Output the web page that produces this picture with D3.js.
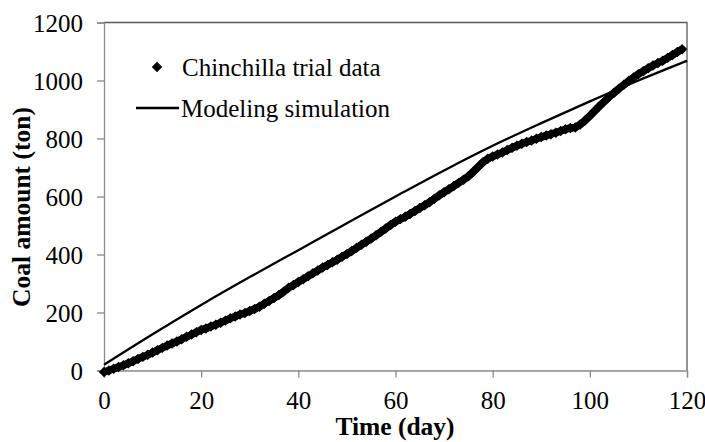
<!DOCTYPE html>
<html>
<head>
<meta charset="utf-8">
<script src="https://cdn.jsdelivr.net/npm/d3@7"></script>
<style>
  html, body { margin: 0; padding: 0; background: #fff; }
  svg { display: block; }
</style>
</head>
<body>
<svg id="chart" width="705" height="442"></svg>
<script>
// ---- data ----
const trialDays = d3.range(0, 120);
const trialValues = [
  -5, 0, 6, 12, 18, 25, 32, 40, 47, 54,
  62, 70, 78, 86, 93, 100, 108, 116, 124, 132,
  140, 145, 152, 158, 165, 172, 180, 186, 193, 198,
  205, 212, 220, 230, 240, 250, 260, 272, 285, 295,
  305, 315, 325, 335, 345, 355, 364, 373, 382, 392,
  402, 412, 423, 434, 444, 455, 466, 478, 490, 502,
  513, 522, 530, 540, 550, 560, 570, 580, 592, 604,
  615, 625, 636, 647, 658, 670, 685, 702, 718, 730,
  738, 745, 752, 760, 768, 775, 782, 788, 793, 799,
  805, 810, 815, 820, 826, 832, 836, 838, 848, 862,
  878, 895, 912, 928, 944, 958, 972, 985, 998, 1010,
  1022, 1032, 1042, 1052, 1060, 1068, 1078, 1088, 1098, 1108
];
const modelDays = [0, 10, 20, 30, 40, 50, 60, 70, 80, 90, 100, 110, 120];
const modelValues = [20, 125, 226, 322, 415, 508, 600, 690, 775, 853, 928, 1000, 1068];
const xTicks = [0, 20, 40, 60, 80, 100, 120];
const yTicks = [0, 200, 400, 600, 800, 1000, 1200];
const seriesNames = ["Chinchilla trial data", "Modeling simulation"];
const xTitle = "Time (day)";
const yTitle = "Coal amount (ton)";

const FONT = "'Liberation Serif', Tinos, 'Times New Roman', 'DejaVu Serif', serif";

// ---- layout ----
const svg = d3.select("#chart");
const mLeft = 104, mRight = 687, mTop = 22.5, mBottom = 370.5;
const x = d3.scaleLinear().domain([0, 120]).range([mLeft, mRight]);
const y = d3.scaleLinear().domain([0, 1200]).range([mBottom, mTop]);

// frame (top & right)
svg.append("path")
  .attr("d", `M${mLeft},${mTop}H${mRight}V${mBottom}`)
  .attr("fill", "none").attr("stroke", "#595959").attr("stroke-width", 1.3);

// axes
const xAxis = svg.append("g").attr("transform", `translate(0,${mBottom})`)
  .call(d3.axisBottom(x).tickValues(xTicks).tickSize(7).tickPadding(14).tickFormat(d3.format("d")));
const yAxis = svg.append("g").attr("transform", `translate(${mLeft},0)`)
  .call(d3.axisLeft(y).tickValues(yTicks).tickSize(7).tickPadding(14).tickFormat(d3.format("d")));
[xAxis, yAxis].forEach(g => {
  g.attr("font-family", FONT).attr("font-size", 25);
  g.select(".domain").attr("stroke", "#8a8a8a").attr("stroke-width", 1.3);
  g.selectAll(".tick line").attr("stroke", "#8a8a8a").attr("stroke-width", 1.3);
  g.selectAll(".tick text").attr("font-family", FONT).attr("font-size", 25).attr("fill", "#000");
});
yAxis.selectAll(".tick text").attr("dy", "0.36em");

// model line
const line = d3.line().x((d, i) => x(modelDays[i])).y(d => y(d)).curve(d3.curveMonotoneX);
svg.append("path").datum(modelValues)
  .attr("d", line).attr("fill", "none").attr("stroke", "#000").attr("stroke-width", 2.3);

// trial data: dense diamond markers
const trialLine = d3.line().x((d, i) => x(trialDays[i])).y(d => y(d));
svg.append("path").datum(trialValues)
  .attr("d", trialLine).attr("fill", "none").attr("stroke", "#000")
  .attr("stroke-width", 7.5).attr("stroke-linejoin", "round");
const diamond = d3.symbol().type(d3.symbolSquare).size(55);
svg.append("g").selectAll("path").data(trialValues).join("path")
  .attr("d", diamond)
  .attr("transform", (d, i) => `translate(${x(trialDays[i])},${y(d)}) rotate(45)`)
  .attr("fill", "#000");

// legend
const leg = svg.append("g").attr("font-family", FONT).attr("font-size", 25);
leg.append("path").attr("d", d3.symbol().type(d3.symbolSquare).size(55))
  .attr("transform", "translate(157,67) rotate(45)").attr("fill", "#000");
leg.append("text").attr("x", 182).attr("y", 67).attr("dy", "0.35em").text(seriesNames[0]);
leg.append("line").attr("x1", 136).attr("x2", 179).attr("y1", 108).attr("y2", 108)
  .attr("stroke", "#000").attr("stroke-width", 2.3);
leg.append("text").attr("x", 181).attr("y", 108).attr("dy", "0.35em").text(seriesNames[1]);

// titles
svg.append("text").attr("x", 395).attr("y", 435)
  .attr("text-anchor", "middle").attr("font-family", FONT).attr("font-size", 25.5)
  .attr("font-weight", "bold").text(xTitle);
svg.append("text").attr("transform", "translate(30,207) rotate(-90)")
  .attr("text-anchor", "middle").attr("font-family", FONT).attr("font-size", 25.5)
  .attr("font-weight", "bold").text(yTitle);
</script>
</body>
</html>
